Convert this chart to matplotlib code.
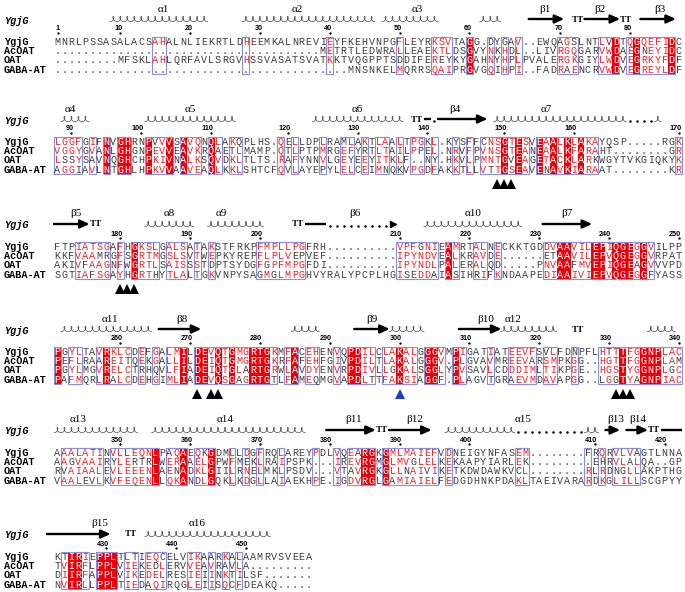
import matplotlib.pyplot as plt
from matplotlib.patches import Rectangle
from itertools import combinations
import numpy as np

names = ["YgjG", "AcOAT", "OAT", "GABA-AT"]

block1 = [
    "MNRLPSSASALACSAHALNLIEKRTLDHEEMKALNREVIEYFKEHVNPGFLEYRKSVTAGG.DYGAV..EWQAGSLNTLVDTQGQEFIDC",
    ".........." ".........." ".........." "........" "METRTLEDWRALLEAEKTLDSGVYNKHDL..LIVRGQGARVWDAEGNEYIDC",
    "........." "MFSKLAHLQRFAVLSRGVHSSVASATSVATKKTVQGPPTSDDIFEREYKYGAHNYHPLPVALERGKGIYLWDVEGRKYFDF",
    ".........." ".........." ".........." ".........." ".." "MNSNKELMQRRSQAIPRGVGQIHPI..FADRAENCRVWDVEGREYLDF",
]
block2 = [
    "LGGFGIFNVGHRNPVVVSAVQNQLAKQPLHS.QELLDPLRAMLAKTLAALTPGKL.KYSFFCNSGTESVEAALKLAKAYQSP.....RGK",
    "VGGYGVANLGHGNPEVVEAVKRQAETLMAMP.QTLPTPMRGEFYRTLTAILPPEL.NRVFPVNSGTEANEAALKFARAHT........GR",
    "LSSYSAVNQGHCHPKIVNALKSQVDKLTLTS.RAFYNNVLGEYEEYITKLF..NY.HKVLPMNTGVEAGETACKLARKWGYTVKGIQKYK",
    "AGGIAVLNTGHLHPKVVAAVEAQLKKLSHTCFQVLAYEPYLELCEIMNQKVPGDFAKKTLLVTTGSEAVENAVKIARAAT........KR",
]
block3 = [
    "FTPIATSGAFHGKSLGALSATAKSTFRKPFMPLLPGFRH.........." "VPFGNIEAMRTALNECKKTGDDVAAVILEPIQGEGGVILPP",
    "KKFVAAMRGFSGRTMGSLSVTWEPKYREPFLPLVEPVEF.........." "IPYNDVEALKRAVDE......ETAAVILEPVQGEGGVRPAT",
    "AKIVFAAGNFWGRTLSAISSSTDPTSYDGFGPFMPGFDI.........." "IPYNDLPALERALQD.....PNVAAFMVEPIQGEAGVVVPD",
    "SGTIAFSGAYHGRTHYTLALTGKVNPYSAGMGLMPGHVYRALYPCPLHGISEDDAIASIHRIFKNDAAPEDIAAIVIEPVQGEGGFYASS",
]
block4 = [
    "PGYLTAVRKLCDEFGALMILDEVQTGMGRTGKMFACEHENVQPDILCLAKALGGGVMPIGATIATEEVFSVLFDNPFLHTTTFGGNPLAC",
    "PEFLRAAREITQEKGALLILDEIQTGMGRTGKRFAFEHFGIVPDILTLAKALGGGV.PLGVAVMREEVARSMPKGG..HGTTFGGNPLAM",
    "PGYLMGVRELCTRHQVLFIADEIQTGLARTGRWLAVDYENVRPDIVLLGKALSGGLYPVSAVLCDDDIMLTIKPGE..HGSTYGGNPLGC",
    "PAFMQRLRALCDEHGIMLIADEVQSGAGRTGTLFAMEQMGVAPDLTTFAKSIAGGF.PLAGVTGRAEVMDAVAPGG..LGGTYAGNPIAC",
]
block5 = [
    "AAALATINVLLEQNLPAQAEQKGDMLLDGFRQLAREYPDLVQEARGKGMLMAIEFVDNEIGYNFASEM........FRQRVLVAGTLNNA",
    "AAGVAAIRYLERTRLWERAAELGPWFMEKLRAIPSPK...IREVRGMGLMVGLELKEKAAPYIARLEK.........EHRVLALQA..GP",
    "RVAIAALEVLEEENLAENADKLGIILRNELMKLPSDV...VTAVRGKGLLNAIVIKETKDWDAWKVCL........RLRDNGLLAKPTHG",
    "VAALEVLKVFEQENLLQKANDLGQKLKDGLLAIAEKHPE.IGDVRGLGAMIAIELFEDGDHNKPDAKLTAEIVARARDKGLILLSCGPYY",
]
block6 = [
    "KTIRIEPPLTLTIEQCELVIKAARKALAAMRVSVEEA",
    "TVIRFLPPLVIEKEDLERVVEAVRAVLA.........",
    "DIIRFAPPLVIKEDELRESIEIINKTILSF.......",
    "NVIRLLPPLTIEDAQIRQGLEIISQCFDEAKQ.....",
]
blocks = [block1, block2, block3, block4, block5, block6]

# YgjG secondary structure per block: (kind, first col, last col, label, label col)
ss1 = [("helix", 8, 21, "α1", 15.1), ("helix", 27, 45, "α2", 34.3), ("helix", 47, 54, "α3", 51.5),
       ("helix", 61, 63, "", 0), ("strand", 68, 72, "β1", 69.8), ("turn", 74, 75, "", 0),
       ("strand", 76, 80, "β2", 77.7), ("turn", 81, 82, "", 0), ("strand", 84, 88, "β3", 86.3)]
ss2 = [("helix", 1, 4, "α4", 1.8), ("helix", 13, 25, "α5", 19), ("helix", 37, 49, "α6", 43),
       ("turn", 51, 52, "", 0), ("line", 53, 53, "", 0), ("dots", 54, 54, "", 0),
       ("strand", 55, 61, "β4", 57), ("helix", 63, 81, "α7", 70), ("dots", 82, 85, "", 0),
       ("helix", 86, 86, "", 0)]
ss3 = [("strand", 0, 4, "β5", 2.7), ("turn", 5, 6, "", 0), ("helix", 13, 19, "α8", 16),
       ("helix", 22, 29, "α9", 23.5), ("turn", 34, 35, "", 0), ("line", 36, 38, "", 0),
       ("dots", 39, 47, "β6", 42.6), ("head", 48, 48, "", 0), ("helix", 53, 66, "α10", 59.5),
       ("strand", 70, 76, "β7", 73)]
ss4 = [("helix", 1, 13, "α11", 7.5), ("strand", 15, 20, "β8", 17.8), ("helix", 34, 37, "", 0),
       ("strand", 43, 47, "β9", 45), ("helix", 48, 52, "", 0), ("strand", 58, 63, "β10", 61.3),
       ("helix", 64, 71, "α12", 65.3), ("turn", 74, 75, "", 0), ("helix", 85, 88, "", 0)]
ss5 = [("helix", 0, 11, "α13", 3), ("helix", 14, 35, "α14", 24), ("strand", 39, 45, "β11", 42.4),
       ("turn", 46, 47, "", 0), ("strand", 48, 53, "β12", 51.2), ("helix", 56, 65, "α15", 66.7),
       ("dots", 66, 75, "", 0), ("helix", 76, 77, "", 0), ("strand", 79, 80, "β13", 79.9),
       ("strand", 82, 84, "β14", 83.2), ("turn", 85, 86, "", 0), ("line", 87, 89, "", 0)]
ss6 = [("strand", -1, 7, "β15", 6), ("turn", 10, 11, "", 0), ("helix", 13, 30, "α16", 20)]
ss_all = [ss1, ss2, ss3, ss4, ss5, ss6]

black_marks = [[], [63, 64, 65], [9, 10, 11], [20, 22, 23, 80, 81, 82], [], []]
blue_marks = [[], [], [], [49], [], []]

block_y = [42, 142, 247, 352, 453, 557]
ROW = 9.2

SIM_GROUPS = ["ILMV", "ILMF", "FYW", "HY", "KR", "KQ", "RQ", "EQ", "EK", "DE", "DN", "NQ",
              "ST", "AS", "AT"]

RED = "#e3262b"
FILL = "#e8000b"
BLUE = "#8a8fdc"
MONO = "Liberation Mono"
SERIF = "Liberation Serif"


def similar(a, b):
    return a == b or any(a in g and b in g for g in SIM_GROUPS)


def column_state(col):
    res = [(k, c) for k, c in enumerate(col) if c.isalpha()]
    n = len(res)
    if n == 4 and len(set(c for _, c in res)) == 1:
        return "ident", [0, 1, 2, 3]
    if n < 2:
        return None, []
    best = []
    for size in range(n, 1, -1):
        cands = []
        for sub in combinations(res, size):
            if all(similar(a[1], b[1]) for a, b in combinations(sub, 2)):
                nid = sum(a[1] == b[1] for a, b in combinations(sub, 2))
                cands.append((nid, sub))
        if cands:
            best = list(max(cands)[1])
            break
    idpairs = [(a, b) for a, b in combinations(res, 2) if a[1] == b[1]]
    if n == 4 and len(best) >= 3:
        return "sim", [k for k, _ in best]
    if n == 3:
        if len(best) == 3:
            return "sim", [k for k, _ in best]
        if idpairs:
            return "sim", [idpairs[0][0][0], idpairs[0][1][0]]
    if n == 2 and idpairs:
        return "sim", [res[0][0], res[1][0]]
    return None, []


def draw_helix(ax, c0, c1, y):
    u = np.linspace(c0 - 0.5, c1 + 0.5, 60 * (c1 - c0 + 1))
    ph = 2 * np.pi * (u - c0 + 0.5)
    ax.plot(u + 0.27 * np.sin(ph), y + 2.7 * np.cos(ph), color="0.35", lw=0.55)


fig = plt.figure(figsize=(6.85, 5.92), dpi=100)
ax = fig.add_axes([0, 0, 1, 1])
pitch = 6.98
ax.set_xlim(-57.5 / pitch, (685 - 57.5) / pitch)
ax.set_ylim(592, 0)
ax.axis("off")

resnum = 0
for b, blk in enumerate(blocks):
    y0 = block_y[b]
    ncol = len(blk[0])
    ys = [y0 + k * ROW for k in range(4)]
    top, bot = ys[0] - ROW / 2, ys[3] + ROW / 2

    # column shading and frames
    states = [column_state([s[i] for s in blk]) for i in range(ncol)]
    run_start = None
    for i in range(ncol + 1):
        on = i < ncol and states[i][0] is not None
        if on and run_start is None:
            run_start = i
        if not on and run_start is not None:
            ax.add_patch(Rectangle((run_start - 0.5, top), i - run_start, bot - top,
                                   fill=False, ec=BLUE, lw=0.8, zorder=3))
            run_start = None
        if i < ncol and states[i][0] == "ident":
            ax.add_patch(Rectangle((i - 0.5, top), 1, bot - top, fc=FILL, ec="none", zorder=1))

    for k, s in enumerate(blk):
        ax.text(-7.7, ys[k], names[k], ha="left", va="center", family=MONO,
                fontsize=7.3, fontweight="bold")
        for i, ch in enumerate(s):
            st, members = states[i]
            if st == "ident":
                col = "white"
            elif st == "sim" and k in members:
                col = RED
            else:
                col = "0.25"
            ax.text(i, ys[k], ch, ha="center", va="center", family=MONO, fontsize=7.3,
                    color=col, zorder=4)

    # numbering of YgjG
    for i, ch in enumerate(blk[0]):
        if ch.isalpha():
            resnum += 1
            if resnum == 1 or resnum % 10 == 0:
                ax.text(i + 0.35, y0 - 13, str(resnum), ha="right", va="center",
                        family="Liberation Sans", fontsize=5.2, fontweight="bold")
                ax.plot(i, y0 - 8.8, "k.", ms=1.4)

    # secondary structure
    ys_ss = y0 - 23
    ax.text(-7.7, ys_ss + 1.5, "YgjG", ha="left", va="center", family=MONO, fontsize=7.3,
            fontweight="bold", style="italic")
    for kind, c0, c1, lab, lc in ss_all[b]:
        if kind == "helix":
            draw_helix(ax, c0, c1, ys_ss)
        elif kind == "strand":
            ax.annotate("", xy=(c1 + 0.6, ys_ss), xytext=(c0 - 0.5, ys_ss),
                        arrowprops=dict(arrowstyle="-|>,head_length=0.55,head_width=0.25",
                                        lw=1.7, color="k", shrinkA=0, shrinkB=0))
        elif kind == "turn":
            ax.text((c0 + c1) / 2, ys_ss + 0.5, "TT", ha="center", va="center",
                    family=SERIF, fontsize=6.5, fontweight="bold")
        elif kind == "line":
            ax.plot([c0 - 0.5, c1 + 0.5], [ys_ss, ys_ss], color="k", lw=1.7,
                    solid_capstyle="butt")
        elif kind == "dots":
            cols = np.arange(c0, c1 + 1)
            ax.plot(cols, [ys_ss + 1.5] * len(cols), "k.", ms=1.6)
        elif kind == "head":
            ax.plot(c0, ys_ss, marker=">", color="k", ms=4.5)
        if lab:
            ax.text(lc, y0 - 33, lab, ha="center", va="center", family=SERIF, fontsize=8)

    # functional residue marks
    ym = ys[3] + 14
    for c in black_marks[b]:
        ax.plot(c, ym, marker="^", color="k", ms=6.5, mew=0)
    for c in blue_marks[b]:
        ax.plot(c, ym, marker="^", color="#1f3fbf", ms=6.5, mew=0)

fig.savefig("out.png", dpi=100)
